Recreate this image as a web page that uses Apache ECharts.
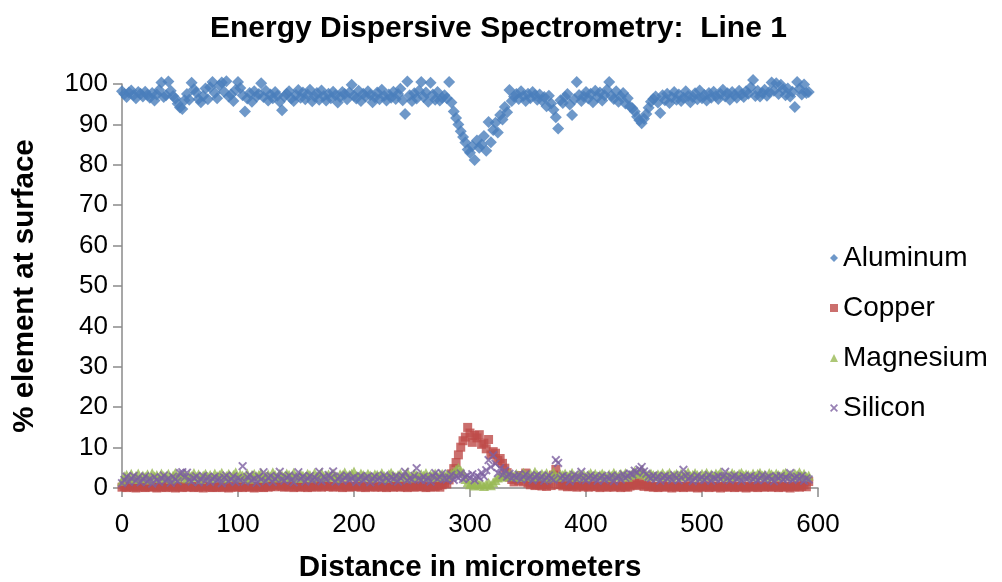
<!DOCTYPE html>
<html>
<head>
<meta charset="utf-8">
<script src="https://cdn.jsdelivr.net/npm/echarts@6/dist/echarts.min.js"></script>
<style>
html,body{margin:0;padding:0;background:#fff;}
#chart{width:1002px;height:582px;}
</style>
</head>
<body>
<div id="chart"></div>
<script>
// Sampling step along the line scan (micrometers between successive readings)
const STEP = 2;
const xTicks = [0, 100, 200, 300, 400, 500, 600];
const yTicks = [0, 10, 20, 30, 40, 50, 60, 70, 80, 90, 100];
const seriesNames = ['Aluminum', 'Copper', 'Magnesium', 'Silicon'];

const aluminum = [
98.2,97.5,96.8,97.9,98.4,97.2,96.5,98.0,97.6,96.9,
98.1,97.3,96.6,97.8,95.9,97.4,98.5,100.4,96.8,97.2,
100.6,98.3,97.0,96.4,95.1,94.2,93.8,96.0,97.5,96.1,
100.3,98.7,97.9,96.3,95.5,97.0,98.9,96.2,99.2,100.5,
97.8,96.5,99.6,100.4,98.1,100.7,96.9,97.4,95.8,98.6,
100.5,99.0,97.2,93.2,96.4,97.8,95.6,98.2,96.9,97.5,
100.2,96.8,98.3,95.9,97.4,96.5,98.0,97.1,95.6,93.5,
96.9,97.6,98.2,96.4,95.8,97.3,98.5,96.6,97.9,96.2,
97.4,98.6,95.7,96.9,97.8,96.1,98.4,97.0,95.9,97.6,
96.5,98.1,97.2,95.4,96.8,98.0,97.5,96.2,97.9,99.8,
97.1,96.4,98.3,95.8,97.6,96.9,98.2,97.3,95.5,96.7,
97.9,96.2,98.6,97.0,95.9,97.4,96.6,98.1,96.3,97.5,
98.8,96.0,92.6,100.6,97.2,95.8,97.7,96.4,98.3,100.5,
96.8,97.9,95.6,100.3,97.4,96.1,98.0,95.9,96.6,97.2,
96.5,100.5,95.4,93.2,91.6,90.0,88.3,86.9,85.5,83.8,
83.0,84.6,81.2,86.0,84.2,85.0,87.1,83.5,90.6,85.6,
88.6,90.4,88.0,92.3,91.2,94.3,93.0,98.5,95.8,96.9,
97.5,96.3,98.2,97.0,95.8,97.6,96.5,98.0,97.2,96.1,
97.4,95.9,96.8,94.5,97.1,95.2,93.6,91.8,89.0,96.0,
95.3,96.8,97.5,94.9,92.3,96.2,100.5,97.3,95.8,96.9,
98.0,96.4,97.6,95.5,98.3,96.8,97.9,95.9,97.2,98.6,
100.5,97.1,96.3,98.2,95.6,96.9,97.8,95.2,96.5,94.4,
94.0,93.2,91.9,91.0,90.3,91.4,92.6,94.1,95.6,96.3,
96.9,95.4,92.8,97.2,96.0,97.6,95.3,96.7,98.0,96.1,
97.4,95.8,96.6,98.2,97.0,95.5,96.8,97.7,96.2,98.4,
96.5,97.3,95.9,97.8,96.6,98.1,97.0,96.3,97.5,98.6,
96.9,97.7,96.1,98.0,97.2,96.6,98.3,97.4,96.8,98.2,
97.6,99.2,101.0,97.0,98.3,96.9,97.8,98.6,97.1,98.0,
100.4,98.3,100.2,97.5,99.8,98.7,97.2,98.9,96.9,98.1,
94.3,100.5,98.8,97.4,99.9,97.8,98.0
];

const copper = [
0.2,0.4,0.1,0.3,0.5,0.2,0.0,0.3,0.6,0.2,
0.1,0.4,0.3,0.2,0.5,0.0,0.3,0.2,0.4,0.1,
0.3,0.6,0.2,0.0,0.4,0.3,0.1,0.5,0.2,0.3,
0.4,0.1,0.3,0.2,0.6,0.0,0.3,0.5,0.2,0.1,
0.3,0.2,0.5,0.1,0.4,0.3,0.0,0.2,0.6,0.3,
0.2,0.4,0.1,0.3,0.5,0.2,0.3,0.0,0.4,0.2,
0.3,0.1,0.5,0.2,0.4,0.8,0.3,0.6,1.0,0.4,
0.2,0.5,0.3,0.9,0.1,0.4,0.3,0.2,0.6,0.3,
0.1,0.4,0.2,0.5,0.3,0.7,0.2,0.4,0.8,0.3,
0.5,0.2,0.4,0.9,0.3,0.1,0.6,0.3,0.2,0.5,
0.4,0.3,0.7,0.2,0.5,0.1,0.4,0.3,0.6,0.2,
0.3,0.5,0.2,0.4,0.1,0.6,0.3,0.2,0.5,0.4,
0.2,0.6,0.3,0.1,0.4,0.5,0.2,0.3,0.7,0.4,
0.3,0.1,0.5,0.2,0.4,0.3,0.6,0.2,0.8,1.2,
1.0,2.0,3.5,4.8,6.3,8.2,10.1,11.7,12.6,15.0,
13.6,11.3,13.0,12.4,13.2,10.8,11.1,9.7,12.0,8.2,
9.0,8.6,6.8,7.3,6.1,4.9,3.8,2.7,2.1,1.5,
2.4,1.8,3.1,1.5,3.7,1.2,0.8,1.4,0.6,1.0,
0.7,0.5,0.9,0.4,1.1,0.6,3.2,4.6,0.8,0.9,
0.5,0.8,0.3,0.6,0.4,0.9,0.2,0.5,0.7,0.3,
0.6,0.2,0.4,0.8,0.3,0.5,0.1,0.4,0.6,0.2,
0.3,0.7,0.2,0.5,0.4,0.1,0.6,0.3,0.2,0.5,
0.8,1.2,0.6,1.5,0.9,0.4,0.7,0.3,0.5,0.2,
0.4,0.1,0.3,0.6,0.2,0.5,0.3,0.0,0.4,0.2,
0.5,0.3,0.1,0.4,0.6,0.2,0.3,0.5,0.0,0.3,
0.2,0.4,0.6,0.1,0.3,0.5,0.2,0.4,0.0,0.3,
0.5,0.2,0.3,0.6,0.1,0.4,0.2,0.5,0.3,0.0,
0.3,0.5,0.2,0.4,0.1,0.6,0.3,0.2,0.5,0.4,
0.2,0.3,0.6,0.1,0.4,0.2,0.5,0.3,0.0,0.4,
0.3,0.6,0.2,0.4,0.8,0.3,1.6
];

const magnesium = [
1.8,2.9,3.3,2.6,3.5,2.2,3.0,3.6,2.4,3.1,
2.8,3.4,2.1,3.7,2.9,3.2,2.5,3.6,3.0,2.7,
3.5,2.3,3.1,3.8,2.6,3.3,2.9,3.6,2.4,3.2,
3.0,3.7,2.7,3.4,2.2,3.1,3.5,2.8,3.3,2.5,
3.6,2.9,3.2,3.8,2.4,3.0,3.5,2.7,3.3,3.9,
2.6,3.4,3.1,2.8,3.6,2.3,3.2,3.5,2.9,3.3,
3.7,2.5,3.0,3.4,2.8,3.9,3.2,2.6,3.5,3.1,
2.9,3.6,3.3,2.7,3.8,3.0,2.5,3.4,3.1,2.8,
3.5,3.2,2.6,3.7,2.9,3.3,3.8,2.7,3.1,3.4,
2.8,3.6,3.0,2.5,3.4,3.2,3.9,2.9,3.3,3.5,
4.1,3.0,2.7,3.6,3.2,2.8,3.5,3.1,2.6,3.4,
3.3,2.9,3.7,3.0,2.5,3.4,3.8,3.1,2.7,3.2,
3.6,2.8,3.3,3.9,2.6,3.0,3.5,3.2,2.9,3.4,
3.1,3.7,2.7,3.3,3.0,3.6,2.8,3.2,3.5,2.9,
3.4,3.0,3.6,3.9,4.6,5.0,4.4,3.8,2.2,1.4,
0.9,1.2,0.6,1.5,0.8,1.1,0.5,0.9,1.3,0.7,
1.4,2.0,2.6,3.1,2.8,3.4,3.0,3.6,3.2,2.9,
3.5,3.1,2.7,3.8,3.3,3.0,3.6,2.8,4.0,3.2,
2.9,3.5,3.1,3.7,2.6,3.3,3.9,3.0,2.8,3.4,
3.2,3.6,2.9,3.3,3.8,3.0,2.7,3.5,3.1,3.4,
2.8,3.3,3.7,3.0,3.5,2.9,3.2,3.6,3.1,2.7,
3.4,3.0,3.8,3.2,2.9,3.5,3.1,3.7,2.8,3.3,
3.6,4.2,3.5,3.9,4.5,3.7,3.3,3.0,3.6,3.2,
2.9,3.4,3.1,3.7,3.0,3.3,3.8,2.8,3.2,3.5,
3.1,3.6,2.9,3.4,3.9,3.0,3.3,3.7,3.2,2.8,
3.5,3.1,3.8,3.0,3.4,2.9,3.6,3.2,3.9,3.1,
2.8,3.4,3.0,3.7,3.3,2.9,3.5,3.8,3.1,3.4,
3.2,2.9,3.6,3.0,3.5,3.8,3.1,3.3,2.8,3.7,
3.4,3.0,3.6,3.2,2.9,3.5,3.8,3.1,3.3,2.9,
3.6,3.2,3.9,3.0,3.5,2.8,3.1
];

const silicon = [
1.2,2.0,2.8,1.5,2.4,3.0,1.8,2.6,1.4,2.2,
2.9,1.6,2.3,1.1,2.7,2.0,1.5,2.5,3.1,1.9,
2.4,1.3,2.8,2.1,1.7,3.7,3.9,2.6,3.8,2.0,
1.6,2.5,2.9,1.4,2.2,3.0,1.8,2.7,1.5,2.3,
2.8,1.9,2.4,1.2,2.6,3.1,1.7,2.2,2.9,1.5,
2.5,2.0,5.4,1.6,2.7,3.2,1.9,2.4,1.3,2.8,
2.1,3.9,1.7,2.5,3.0,1.5,2.3,2.8,4.0,2.2,
1.8,2.6,3.1,2.0,1.4,2.7,3.9,2.3,2.9,1.6,
2.4,3.0,1.9,2.6,2.2,4.0,1.7,2.8,2.1,3.2,
2.5,4.1,1.6,2.3,2.9,1.8,2.6,3.1,2.0,2.4,
2.7,1.5,2.2,3.0,1.9,2.5,2.8,1.4,2.3,2.9,
2.0,2.6,1.7,3.1,2.4,1.8,2.7,2.2,3.0,1.6,
2.5,2.9,4.0,1.9,2.4,2.1,3.0,4.9,2.3,2.0,
2.8,2.0,2.5,1.6,2.9,3.7,2.2,2.7,3.6,2.4,
2.1,2.6,3.3,2.0,3.0,2.5,3.6,2.2,2.8,3.1,
2.4,3.4,1.9,3.0,2.6,3.8,2.9,4.4,6.9,5.2,
8.1,6.0,3.7,4.9,3.2,4.3,2.8,3.5,2.4,3.0,
2.6,3.3,2.1,2.8,3.4,2.3,3.0,1.9,2.7,3.2,
2.2,2.9,1.8,2.6,3.1,2.4,2.0,6.9,6.2,2.5,
3.0,2.2,2.8,1.7,2.5,3.3,2.1,2.7,4.0,2.4,
1.9,2.6,3.1,2.2,2.8,1.8,2.5,3.0,2.0,2.7,
2.3,3.1,1.7,2.6,2.9,2.1,3.4,2.5,3.0,3.6,
3.3,4.3,3.8,4.6,5.2,4.1,3.5,2.8,2.4,3.1,
2.2,2.9,1.8,2.6,3.0,2.3,2.7,2.0,3.2,2.5,
1.9,2.6,4.5,3.0,2.2,2.8,1.7,2.4,3.1,2.1,
2.7,2.0,2.5,3.2,1.8,2.6,2.3,3.0,2.1,2.8,
4.0,2.4,1.9,2.7,3.1,2.2,2.6,1.8,2.9,2.3,
2.5,3.0,2.1,2.7,1.9,2.4,3.2,2.0,2.6,2.8,
2.2,1.7,2.9,2.4,3.0,2.1,2.6,2.3,3.7,2.0,
2.5,2.8,2.2,3.0,1.8,2.4,2.1
];

const colors = ['#4A7EBB', '#BE4B48', '#98B954', '#7D60A0'];
const xPath = 'path://M1.5,0 L5,3.5 L8.5,0 L10,1.5 L6.5,5 L10,8.5 L8.5,10 L5,6.5 L1.5,10 L0,8.5 L3.5,5 L0,1.5 Z';
const symbols = ['diamond', 'rect', 'triangle', xPath];
const sizes = [12, 9, 10, 9];
const values = [aluminum, copper, magnesium, silicon];

function toPoints(vals) { return vals.map((v, i) => [i * STEP, v]); }

const FONT = '"Liberation Sans", Arial, sans-serif';
const axisLineStyle = { color: '#8A8A8A', width: 1.5 };

const chart = echarts.init(document.getElementById('chart'), null, { renderer: 'canvas' });
chart.setOption({
  animation: false,
  backgroundColor: '#ffffff',
  title: {
    text: 'Energy Dispersive Spectrometry:  Line 1',
    left: 205,
    top: 9,
    textStyle: { fontFamily: FONT, fontWeight: 'bold', fontSize: 30, color: '#000' }
  },
  legend: {
    orient: 'vertical',
    left: 825,
    top: 238,
    itemWidth: 8,
    itemHeight: 8,
    itemGap: 20,
    textStyle: { fontFamily: FONT, fontSize: 28, color: '#000', lineHeight: 30 },
    data: seriesNames.map((n, i) => ({ name: n, icon: symbols[i] }))
  },
  grid: { left: 122, right: 184, top: 84, bottom: 94, outerBoundsMode: 'none', containLabel: false },
  xAxis: {
    type: 'value',
    min: xTicks[0],
    max: xTicks[xTicks.length - 1],
    interval: xTicks[1] - xTicks[0],
    name: 'Distance in micrometers',
    nameLocation: 'middle',
    nameGap: 65,
    nameTextStyle: { fontFamily: FONT, fontWeight: 'bold', fontSize: 29.5, color: '#000' },
    axisLine: { show: true, lineStyle: axisLineStyle },
    axisTick: { show: true, inside: false, length: 9, lineStyle: axisLineStyle },
    axisLabel: { fontFamily: FONT, fontSize: 26, color: '#000', margin: 24 },
    splitLine: { show: false }
  },
  yAxis: {
    type: 'value',
    min: yTicks[0],
    max: yTicks[yTicks.length - 1],
    interval: yTicks[1] - yTicks[0],
    name: '% element at surface',
    nameLocation: 'middle',
    nameGap: 82,
    nameTextStyle: { fontFamily: FONT, fontWeight: 'bold', fontSize: 29.5, color: '#000' },
    axisLine: { show: true, lineStyle: axisLineStyle },
    axisTick: { show: true, inside: false, length: 9, lineStyle: axisLineStyle },
    axisLabel: { fontFamily: FONT, fontSize: 26, color: '#000', margin: 14 },
    splitLine: { show: false }
  },
  series: seriesNames.map((n, i) => ({
    name: n,
    type: 'scatter',
    symbol: symbols[i],
    symbolSize: sizes[i],
    clip: false,
    itemStyle: { color: colors[i] },
    data: toPoints(values[i])
  }))
});
</script>
</body>
</html>
